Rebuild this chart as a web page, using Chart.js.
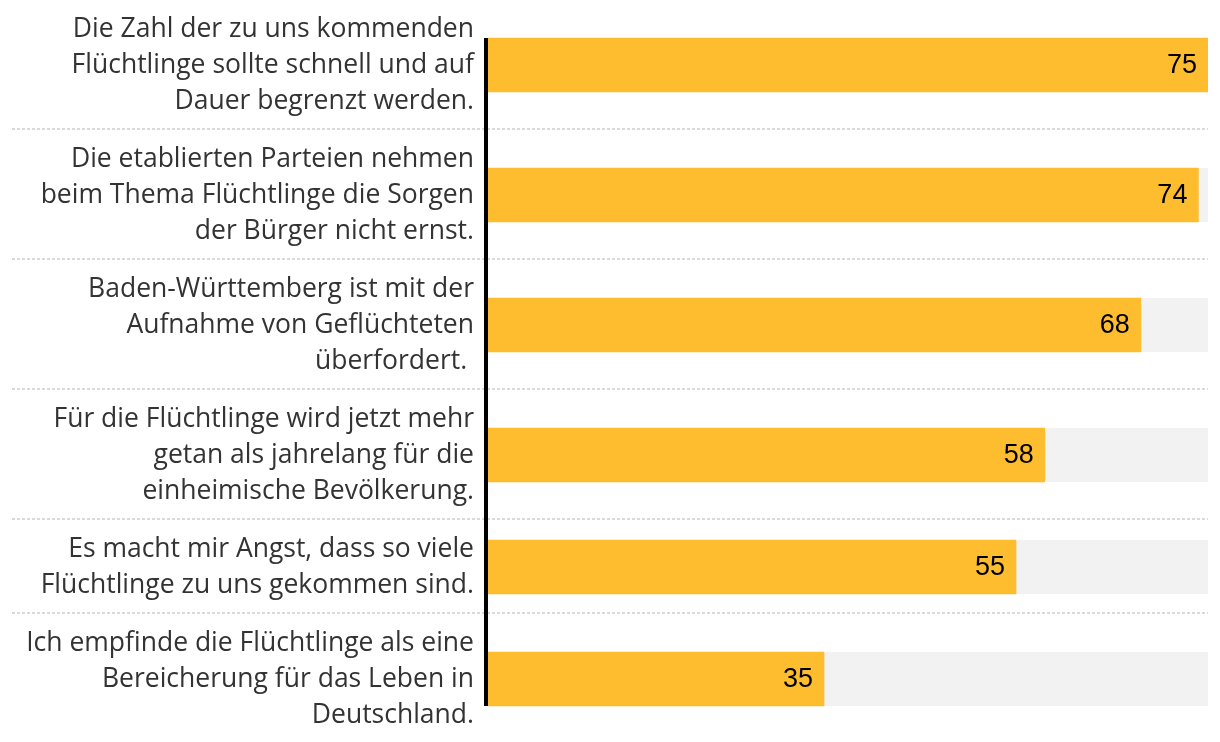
<!DOCTYPE html>
<html>
<head>
<meta charset="utf-8">
<script src="https://cdn.jsdelivr.net/npm/chart.js@4.4.1/dist/chart.umd.min.js"></script>
<style>
  html, body { margin: 0; padding: 0; background: #ffffff; }
  #wrap { width: 1220px; height: 742px; position: relative; }
</style>
</head>
<body>
<div id="wrap"><canvas id="chart"></canvas></div>
<script>
// ---- data ----
const categories = [
  ["Die Zahl der zu uns kommenden", "Flüchtlinge sollte schnell und auf", "Dauer begrenzt werden."],
  ["Die etablierten Parteien nehmen", "beim Thema Flüchtlinge die Sorgen", "der Bürger nicht ernst."],
  ["Baden-Württemberg ist mit der", "Aufnahme von Geflüchteten", "überfordert. "],
  ["Für die Flüchtlinge wird jetzt mehr", "getan als jahrelang für die", "einheimische Bevölkerung."],
  ["Es macht mir Angst, dass so viele", "Flüchtlinge zu uns gekommen sind."],
  ["Ich empfinde die Flüchtlinge als eine", "Bereicherung für das Leben in", "Deutschland."]
];
const values = [75, 74, 68, 58, 55, 35];
const scaleMax = 75;

// ---- layout (row height depends on number of label lines) ----
const LINE_H = 36, ROW_PAD = 22, CANVAS_H = 742;
let acc = 0;
const rows = categories.map(lines => {
  const h = lines.length * LINE_H + ROW_PAD;
  const center = acc + h / 2;
  acc += h;
  return { center, end: acc };
});
const positions = rows.map(r => r.center);

const LABEL_FONT = '"Open Sans"';

function noPadding(scale) {
  scale._calculatePadding = function () {
    this.paddingLeft = 0; this.paddingTop = 0; this.paddingRight = 0; this.paddingBottom = 0;
  };
}

const decoPlugin = {
  id: 'deco',
  beforeDatasetsDraw(chart) {
    const ctx = chart.ctx, ca = chart.chartArea;
    const ys = chart.scales.y;
    // dotted row separators
    ctx.save();
    ctx.strokeStyle = '#d9d9d9';
    ctx.lineWidth = 2;
    ctx.setLineDash([3, 2]);
    for (let i = 0; i < rows.length - 1; i++) {
      const y = Math.round(ys.getPixelForValue(rows[i].end)) - 1;
      ctx.beginPath();
      ctx.moveTo(12, y);
      ctx.lineTo(ca.right, y);
      ctx.stroke();
    }
    ctx.restore();
    // grey tracks
    const meta = chart.getDatasetMeta(0);
    ctx.save();
    ctx.fillStyle = '#f2f2f2';
    meta.data.forEach(el => {
      ctx.fillRect(ca.left, el.y - el.height / 2, ca.right - ca.left, el.height);
    });
    ctx.restore();
  },
  afterDatasetsDraw(chart) {
    const ctx = chart.ctx, ca = chart.chartArea;
    const meta = chart.getDatasetMeta(0);
    const els = meta.data;
    // value labels
    ctx.save();
    ctx.fillStyle = '#000000';
    ctx.font = '27px "Liberation Sans", Arial, sans-serif';
    ctx.textAlign = 'right';
    ctx.textBaseline = 'middle';
    els.forEach((el, i) => {
      ctx.fillText(String(values[i]), el.x - 11, el.y + 1);
    });
    ctx.restore();
    // black baseline axis
    const top = els[0].y - els[0].height / 2;
    const last = els[els.length - 1];
    const bottom = last.y + last.height / 2;
    ctx.save();
    ctx.fillStyle = '#000000';
    ctx.fillRect(ca.left - 4, top, 4, bottom - top);
    ctx.restore();
  }
};

new Chart(document.getElementById('chart'), {
  type: 'bar',
  data: {
    datasets: [{
      data: values.map((v, i) => ({ x: v, y: positions[i] })),
      backgroundColor: '#fdbd2e',
      borderWidth: 0,
      barThickness: 54
    }]
  },
  options: {
    indexAxis: 'y',
    responsive: true,
    maintainAspectRatio: false,
    animation: false,
    layout: { autoPadding: false, padding: { left: 0, right: 12, top: 0, bottom: 0 } },
    plugins: { legend: { display: false }, tooltip: { enabled: false } },
    scales: {
      x: { type: 'linear', min: 0, max: scaleMax, display: false, grid: { display: false } },
      y: {
        type: 'linear',
        min: 0,
        max: CANVAS_H,
        reverse: true,
        offset: false,
        grace: 0,
        grid: { display: false, drawTicks: false },
        border: { display: false },
        afterSetDimensions: noPadding,
        afterBuildTicks(scale) { scale.ticks = positions.map(v => ({ value: v })); },
        afterFit(scale) { scale.width = 488; scale.paddingTop = 0; scale.paddingBottom = 0; },
        ticks: {
          autoSkip: false,
          padding: 14,
          color: '#333333',
          font: { family: LABEL_FONT, size: 26.5, lineHeight: LINE_H + 'px' },
          callback(value) {
            const idx = positions.indexOf(value);
            return idx >= 0 ? categories[idx] : null;
          }
        }
      }
    }
  },
  plugins: [decoPlugin]
});
</script>
</body>
</html>
